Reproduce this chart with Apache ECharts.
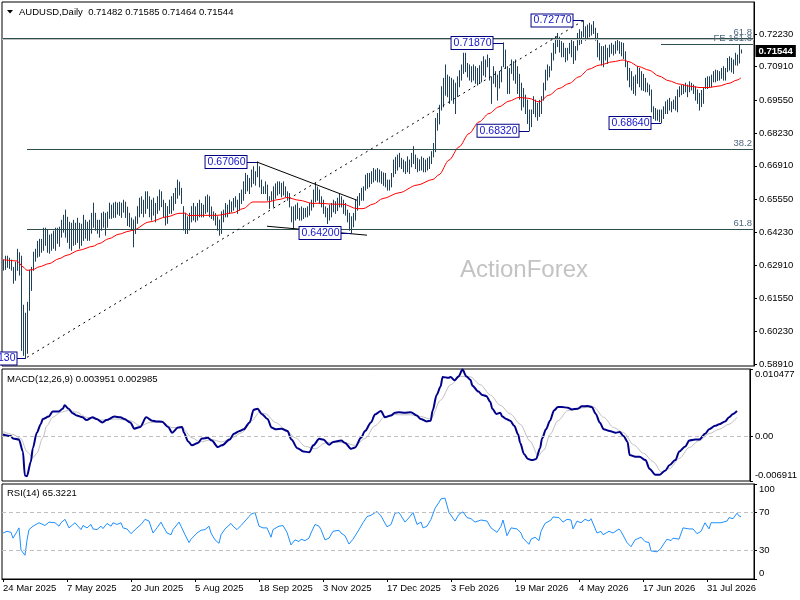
<!DOCTYPE html>
<html><head><meta charset="utf-8">
<script src="https://cdn.jsdelivr.net/npm/echarts@6/dist/echarts.min.js"></script>
<style>html,body{margin:0;padding:0;background:#fff}#c{width:800px;height:600px}</style>
</head><body><div id="c"></div>
<script>
const tickLabels = ['24 Mar 2025','7 May 2025','20 Jun 2025','5 Aug 2025','18 Sep 2025','3 Nov 2025','17 Dec 2025','3 Feb 2026','19 Mar 2026','4 May 2026','17 Jun 2026','31 Jul 2026'];
const priceTicks = [0.72230,0.70910,0.69550,0.68230,0.66910,0.65550,0.64230,0.62910,0.61550,0.60230,0.58910];
const macdTicks = [0.010477, 0, -0.006911];
const rsiTicks = [0, 30, 70, 100];
const headerOHLC = [0.71482, 0.71585, 0.71464, 0.71544];

const highs = [
0.6310,0.6326,0.6326,0.6318,0.6310,0.6281,0.6302,0.6354,0.6340,0.6326,
0.6128,0.6096,0.6140,0.6269,0.6281,0.6342,0.6354,0.6386,0.6394,0.6394,
0.6439,0.6439,0.6431,0.6411,0.6415,0.6427,0.6439,0.6439,0.6443,0.6471,
0.6491,0.6512,0.6483,0.6463,0.6459,0.6471,0.6459,0.6479,0.6459,0.6455,
0.6491,0.6471,0.6463,0.6471,0.6499,0.6540,0.6499,0.6471,0.6471,0.6499,
0.6504,0.6499,0.6504,0.6540,0.6532,0.6540,0.6544,0.6540,0.6544,0.6540,
0.6552,0.6544,0.6524,0.6499,0.6480,0.6472,0.6485,0.6526,0.6560,0.6566,
0.6552,0.6586,0.6586,0.6566,0.6552,0.6560,0.6539,0.6566,0.6593,0.6586,
0.6552,0.6539,0.6526,0.6552,0.6566,0.6579,0.6600,0.6633,0.6625,0.6600,
0.6526,0.6499,0.6485,0.6499,0.6526,0.6539,0.6525,0.6539,0.6552,
0.6539,0.6532,0.6566,0.6573,0.6566,0.6525,0.6505,0.6498,0.6485,0.6472,
0.6505,0.6512,0.6539,0.6532,0.6552,0.6545,0.6559,0.6566,0.6552,0.6579,
0.6593,0.6626,0.6660,0.6652,0.6640,0.6674,0.6687,0.6667,0.6706,0.6687,
0.6633,0.6606,0.6626,0.6613,0.6566,0.6586,0.6606,0.6618,0.6626,0.6626,
0.6620,0.6626,0.6606,0.6586,0.6579,0.6525,0.6525,0.6532,0.6540,0.6519,
0.6525,0.6519,0.6519,0.6525,0.6539,0.6552,0.6593,0.6620,0.6605,0.6593,
0.6566,0.6552,0.6525,0.6519,0.6532,0.6539,0.6552,0.6546,0.6560,0.6579,
0.6566,0.6552,0.6539,0.6512,0.6499,0.6485,0.6499,0.6552,0.6566,0.6579,
0.6600,0.6606,0.6653,0.6660,0.6660,0.6667,0.6680,0.6674,0.6680,0.6674,
0.6667,0.6662,0.6660,0.6633,0.6633,0.6660,0.6714,0.6725,0.6734,0.6741,
0.6721,0.6714,0.6707,0.6727,0.6714,0.6741,0.6768,0.6734,0.6721,0.6715,
0.6727,0.6721,0.6714,0.6721,0.6727,0.6748,0.6781,0.6882,0.6902,0.6935,
0.7010,0.7044,0.7098,0.7057,0.7050,0.7044,0.7037,0.7024,0.7050,0.7075,
0.7098,0.7145,0.7145,0.7104,0.7098,0.7091,0.7098,0.7091,0.7084,0.7095,
0.7111,0.7131,0.7118,0.7138,0.7124,0.7050,0.7091,0.7071,0.7057,0.7070,
0.7091,0.7187,0.7158,0.7091,0.7084,0.7118,0.7111,0.7118,0.7091,0.7060,
0.7024,0.7003,0.6976,0.6956,0.6916,0.6916,0.6970,0.6956,0.6943,0.6955,
0.6970,0.7024,0.7077,0.7098,0.7091,0.7145,0.7185,0.7212,0.7225,0.7210,
0.7192,0.7185,0.7165,0.7165,0.7185,0.7198,0.7192,0.7172,0.7225,0.7240,
0.7232,0.7277,0.7252,0.7259,0.7266,0.7259,0.7273,0.7246,0.7225,0.7185,
0.7172,0.7172,0.7178,0.7165,0.7178,0.7185,0.7178,0.7192,0.7198,0.7192,
0.7188,0.7185,0.7151,0.7111,0.7084,0.7071,0.7050,0.7057,0.7091,0.7084,
0.7071,0.7060,0.7044,0.7024,0.7017,0.6997,0.6929,0.6922,0.6916,0.6916,
0.6916,0.6929,0.6949,0.6956,0.6963,0.6949,0.6956,0.6970,0.6997,0.7010,
0.7015,0.7017,0.7024,0.7017,0.7030,0.7024,0.7017,0.7010,0.6997,0.6983,
0.6995,0.7003,0.7044,0.7050,0.7050,0.7057,0.7071,0.7077,0.7075,0.7071,
0.7084,0.7091,0.7084,0.7124,0.7131,0.7125,0.7118,0.7145,0.7138,0.7178,
0.71585];

const lows = [
0.6270,0.6273,0.6281,0.6277,0.6270,0.6217,0.6229,0.6269,0.6250,0.5946,
0.5926,0.5913,0.5934,0.6108,0.6188,0.6269,0.6306,0.6322,0.6326,0.6342,
0.6350,0.6370,0.6342,0.6338,0.6350,0.6358,0.6350,0.6378,0.6366,0.6403,
0.6423,0.6403,0.6382,0.6358,0.6350,0.6370,0.6374,0.6382,0.6358,0.6370,
0.6390,0.6399,0.6390,0.6390,0.6419,0.6443,0.6431,0.6419,0.6403,0.6431,
0.6443,0.6411,0.6443,0.6479,0.6479,0.6483,0.6483,0.6496,0.6491,0.6483,
0.6504,0.6483,0.6450,0.6445,0.6432,0.6364,0.6418,0.6459,0.6485,0.6499,
0.6485,0.6499,0.6519,0.6485,0.6472,0.6492,0.6465,0.6499,0.6512,0.6526,
0.6485,0.6452,0.6459,0.6499,0.6499,0.6512,0.6539,0.6560,0.6573,0.6539,
0.6432,0.6418,0.6418,0.6432,0.6465,0.6472,0.6465,0.6472,0.6485,
0.6485,0.6485,0.6499,0.6505,0.6485,0.6478,0.6472,0.6452,0.6431,0.6411,
0.6418,0.6465,0.6485,0.6485,0.6499,0.6505,0.6512,0.6525,0.6499,0.6512,
0.6539,0.6552,0.6579,0.6590,0.6579,0.6606,0.6620,0.6613,0.6647,0.6606,
0.6579,0.6579,0.6579,0.6552,0.6519,0.6552,0.6525,0.6560,0.6573,0.6579,
0.6566,0.6573,0.6566,0.6552,0.6525,0.6465,0.6438,0.6472,0.6478,0.6472,
0.6472,0.6478,0.6485,0.6485,0.6492,0.6512,0.6525,0.6546,0.6552,0.6539,
0.6525,0.6499,0.6485,0.6458,0.6472,0.6485,0.6505,0.6499,0.6510,0.6525,
0.6525,0.6499,0.6492,0.6465,0.6431,0.6420,0.6445,0.6472,0.6512,0.6532,
0.6552,0.6552,0.6593,0.6600,0.6606,0.6620,0.6626,0.6633,0.6626,0.6626,
0.6620,0.6612,0.6606,0.6593,0.6593,0.6606,0.6647,0.6660,0.6674,0.6687,
0.6680,0.6667,0.6660,0.6667,0.6660,0.6687,0.6700,0.6680,0.6667,0.6672,
0.6674,0.6667,0.6667,0.6674,0.6680,0.6700,0.6727,0.6748,0.6835,0.6860,
0.6916,0.6929,0.6976,0.6970,0.6943,0.6956,0.6943,0.6902,0.6970,0.7010,
0.7037,0.7064,0.7071,0.7050,0.7037,0.7030,0.7037,0.7024,0.7017,0.7025,
0.7030,0.7057,0.7050,0.7091,0.7037,0.6943,0.7024,0.7010,0.6956,0.7005,
0.7030,0.7091,0.7084,0.6983,0.6983,0.7064,0.7037,0.7024,0.6983,0.6960,
0.6916,0.6929,0.6902,0.6862,0.6832,0.6849,0.6902,0.6889,0.6875,0.6890,
0.6902,0.6956,0.6997,0.7037,0.7050,0.7077,0.7118,0.7145,0.7172,0.7150,
0.7131,0.7131,0.7111,0.7118,0.7145,0.7131,0.7104,0.7118,0.7158,0.7180,
0.7185,0.7212,0.7198,0.7205,0.7212,0.7219,0.7225,0.7198,0.7131,0.7118,
0.7098,0.7091,0.7118,0.7104,0.7131,0.7145,0.7138,0.7145,0.7158,0.7145,
0.7135,0.7124,0.7091,0.7037,0.7010,0.6997,0.6983,0.6976,0.7024,0.7010,
0.6997,0.6995,0.6990,0.6990,0.6976,0.6909,0.6882,0.6875,0.6875,0.6869,
0.6864,0.6882,0.6902,0.6902,0.6916,0.6909,0.6922,0.6916,0.6909,0.6970,
0.6978,0.6983,0.6990,0.6970,0.6990,0.6997,0.6983,0.6956,0.6943,0.6916,
0.6930,0.6943,0.7003,0.7003,0.7010,0.7010,0.7030,0.7030,0.7035,0.7037,
0.7044,0.7037,0.7037,0.7071,0.7077,0.7070,0.7064,0.7098,0.7097,0.7106,
0.71464];

// [bar index, value] read along the red moving average
const maPts = [[0,0.6312],[7,0.6307],[10,0.6283],[12,0.6269],[15,0.6272],[18,0.6283],[23,0.6296],[28,0.6316],[32,0.6330],[38,0.6350],[45,0.6366],[48,0.6377],[53,0.6397],[58,0.6415],[63,0.6427],[65,0.6431],[73,0.6464],[82,0.6485],[88,0.6499],[91,0.6500],[93,0.6490],[98,0.6491],[107,0.6491],[115,0.6501],[120,0.6518],[125,0.6545],[132,0.6545],[138,0.6555],[142,0.6563],[148,0.6552],[155,0.6539],[158,0.6540],[165,0.6536],[170,0.6536],[177,0.6518],[180,0.6518],[185,0.6536],[190,0.6559],[198,0.6582],[207,0.6613],[215,0.6636],[218,0.6655],[223,0.6714],[228,0.6767],[233,0.6821],[238,0.6868],[243,0.6902],[248,0.6929],[253,0.6952],[258,0.6967],[263,0.6963],[268,0.6949],[273,0.6976],[278,0.7003],[283,0.7023],[288,0.7050],[293,0.7081],[298,0.7097],[305,0.7111],[310,0.7118],[313,0.7111],[318,0.7091],[323,0.7077],[328,0.7053],[333,0.7034],[338,0.7021],[343,0.7013],[348,0.7007],[353,0.7007],[358,0.7013],[363,0.7024],[367,0.7037],[369,0.7046]];

const macdPts = [[0,0.00032],[4,0.00006],[5,-0.00032],[8,-0.00048],[10,-0.00233],[11,-0.00607],[12,-0.00616],[14,-0.00393],[15,-0.00181],[17,0.00059],[19,0.00191],[20,0.00271],[23,0.00309],[25,0.00389],[28,0.00389],[30,0.00430],[31,0.00484],[33,0.00430],[35,0.00362],[37,0.00325],[40,0.00298],[42,0.00255],[45,0.00298],[47,0.00271],[50,0.00218],[52,0.00255],[56,0.00309],[59,0.00298],[61,0.00271],[64,0.00218],[66,0.00122],[69,0.00149],[72,0.00298],[75,0.00245],[77,0.00234],[80,0.00229],[83,0.00149],[85,0.00059],[88,0.00138],[90,0.00149],[91,0.00059],[93,-0.00074],[95,-0.00138],[98,-0.00101],[100,-0.00032],[103,-0.00021],[105,-0.00064],[108,-0.00165],[110,-0.00138],[114,-0.00048],[116,0.00043],[119,0.00085],[121,0.00112],[124,0.00218],[126,0.00414],[128,0.00430],[130,0.00351],[133,0.00271],[135,0.00138],[137,0.00112],[140,0.00122],[143,0.00085],[145,-0.00048],[148,-0.00181],[151,-0.00234],[154,-0.00244],[156,-0.00138],[159,-0.00037],[161,-0.00048],[164,-0.00128],[166,-0.00085],[170,-0.00064],[172,-0.00101],[175,-0.00192],[177,-0.00171],[180,-0.00021],[182,0.00085],[185,0.00218],[187,0.00341],[190,0.00394],[192,0.00298],[195,0.00325],[197,0.00367],[199,0.00378],[202,0.00367],[205,0.00378],[208,0.00325],[210,0.00271],[213,0.00234],[215,0.00245],[216,0.00404],[218,0.00644],[220,0.00777],[221,0.00925],[224,0.00910],[225,0.00925],[227,0.00872],[229,0.00932],[231,0.01038],[233,0.00932],[235,0.00880],[236,0.00788],[239,0.00697],[241,0.00644],[243,0.00628],[245,0.00537],[246,0.00430],[248,0.00351],[250,0.00367],[251,0.00309],[253,0.00271],[255,0.00245],[257,0.00165],[259,0.00032],[260,-0.00101],[262,-0.00276],[264,-0.00351],[266,-0.00367],[268,-0.00351],[270,-0.00181],[271,-0.00032],[273,0.00112],[275,0.00245],[277,0.00404],[279,0.00457],[281,0.00457],[284,0.00447],[286,0.00420],[289,0.00430],[291,0.00468],[294,0.00473],[296,0.00457],[298,0.00351],[300,0.00218],[302,0.00112],[305,0.00085],[308,0.00059],[310,0.00069],[312,0.00006],[314,-0.00085],[315,-0.00287],[318,-0.00314],[320,-0.00314],[323,-0.00367],[325,-0.00500],[328,-0.00596],[330,-0.00596],[333,-0.00527],[335,-0.00447],[338,-0.00367],[340,-0.00234],[343,-0.00154],[345,-0.00064],[348,-0.00048],[350,-0.00048],[353,0.00043],[355,0.00112],[358,0.00165],[360,0.00191],[363,0.00234],[365,0.00298],[367,0.00351],[369,0.003951]];

const signalPts = [[0,0.00075],[5,0.00032],[9,-0.00032],[12,-0.00234],[15,-0.00330],[17,-0.00261],[20,-0.00021],[22,0.00165],[25,0.00298],[29,0.00378],[33,0.00404],[37,0.00378],[42,0.00298],[49,0.00255],[57,0.00271],[64,0.00245],[69,0.00165],[74,0.00218],[80,0.00218],[85,0.00138],[90,0.00138],[95,-0.00021],[99,-0.00085],[105,-0.00048],[110,-0.00085],[115,-0.00021],[120,0.00059],[125,0.00245],[129,0.00378],[132,0.00351],[137,0.00218],[142,0.00112],[147,-0.00021],[152,-0.00154],[157,-0.00192],[162,-0.00101],[167,-0.00085],[172,-0.00101],[177,-0.00138],[182,-0.00032],[187,0.00165],[192,0.00309],[197,0.00341],[199,0.00336],[205,0.00336],[210,0.00309],[215,0.00271],[220,0.00564],[225,0.00803],[230,0.00932],[235,0.00925],[240,0.00803],[245,0.00644],[250,0.00484],[255,0.00351],[260,0.00191],[265,-0.00074],[269,-0.00298],[272,-0.00207],[275,0.00032],[279,0.00245],[284,0.00404],[292,0.00447],[297,0.00457],[302,0.00298],[307,0.00138],[312,0.00059],[317,-0.00128],[322,-0.00261],[327,-0.00394],[331,-0.00553],[335,-0.00500],[340,-0.00340],[345,-0.00171],[350,-0.00064],[355,0.00043],[360,0.00112],[365,0.00191],[369,0.002985]];

const rsiPts = [[0,48.4],[2,50.2],[4,49.1],[5,43],[7,50],[8,53.8],[9,30.4],[10,28.6],[11,25],[12,41],[13,52],[15,55.6],[18,59.2],[19,61],[21,56.3],[23,59.9],[24,58.1],[26,59.2],[28,55.6],[29,59.2],[31,62.8],[33,53.8],[34,52],[36,59.2],[39,52],[40,56.3],[42,53.8],[44,57.4],[45,52.7],[47,52],[49,55.6],[50,53.1],[52,58.5],[54,55.6],[55,59.2],[57,57.4],[59,59.2],[60,53.8],[62,52.7],[64,47.7],[67,53.8],[69,57.4],[71,62.8],[73,61],[75,48.4],[77,53.8],[79,59.9],[80,55.6],[82,48.4],[84,46.6],[85,52],[88,59.9],[89,55.6],[91,46.6],[93,38.3],[94,41.9],[97,48.4],[99,51.3],[101,52],[103,55.6],[104,48.4],[106,41.2],[108,37.6],[109,46.6],[111,52.7],[114,58.5],[115,55.6],[117,52],[119,56.3],[121,61],[123,65.7],[124,68.2],[126,70],[128,55.6],[130,53.8],[132,53.8],[134,44],[135,52],[138,55.6],[140,56.3],[142,49.1],[144,35.8],[146,41.2],[148,39.4],[149,41.9],[151,40.4],[153,43],[154,48.4],[156,57.4],[158,55.6],[159,52],[161,41.2],[163,43],[165,50.2],[168,51.3],[169,48.4],[171,45.5],[173,36.8],[175,41.9],[178,52],[180,59.2],[182,65.7],[184,67.1],[187,71.1],[189,66.4],[192,54.9],[194,57.4],[196,69.3],[198,70],[199,68.2],[201,59.9],[203,64.6],[205,70],[207,57.4],[209,59.9],[210,53.8],[212,55.6],[214,62.8],[216,74.3],[218,80.8],[219,84.4],[221,85.1],[223,70],[224,71.8],[226,61],[228,68.2],[230,70.7],[232,64.6],[234,63.5],[236,59.9],[239,62.1],[240,63.5],[242,61],[244,53.8],[245,55.6],[247,49.1],[249,55.6],[250,62.1],[252,45.5],[254,53.8],[255,52],[257,52.7],[259,48.4],[260,43],[263,36.5],[264,41.9],[266,44],[268,40.4],[269,50.2],[271,58.5],[274,62.1],[275,65.3],[278,64.6],[280,59.9],[282,62.8],[284,62.1],[285,52.7],[287,61],[289,59.2],[291,62.8],[293,61],[294,63.5],[297,48.4],[299,50.2],[300,46.6],[303,50.2],[305,48.4],[308,52.7],[309,50.2],[312,38.3],[314,34],[316,41.2],[319,44],[321,39.4],[323,38.3],[324,29.6],[327,28.6],[329,32.2],[330,35.8],[332,41.9],[334,40.4],[335,43],[338,41.9],[340,53.8],[343,52.7],[345,52.7],[347,47.7],[349,50.2],[351,59.2],[353,52.7],[354,59.2],[357,59.2],[359,59.2],[362,61],[363,64.6],[365,63.5],[367,69.3],[368,66.4],[369,65.3221]];

// drawn objects: fib levels, swing labels, trend lines
const fibLevels = [
  {v:0.72065, from:0, text:'61.8'},
  {v:0.67588, from:12, text:'38.2'},
  {v:0.64359, from:12, text:'61.8'},
  {v:0.71826, from:329, text:'FE 161.8'}
];
const swingLabels = [
  {bar:11, at:7, price:0.5913},
  {bar:127, at:122, price:0.6706},
  {bar:174, at:169, price:0.6420},
  {bar:250, at:245, price:0.7187},
  {bar:263, at:258, price:0.6832},
  {bar:290, at:285, price:0.7277},
  {bar:329, at:324, price:0.6864}
];
const trendLines = [
  {a:[12,0.5918], b:[290,0.7276], dotted:true},
  {a:[127,0.6706], b:[177,0.6552]},
  {a:[132,0.6447], b:[182,0.6411]}
];

const NCAT = 376;
const cats = Array.from({length: NCAT}, (_, i) => String(i));
const FONT = '"Liberation Sans", Arial, sans-serif';
const FS = 9.5;
const showTick = (i) => i % 32 === 0 && i / 32 < tickLabels.length;
const last = (a) => a[a.length - 1][1];

const chart = echarts.init(document.getElementById('c'), null, {renderer: 'canvas'});

const gridBase = {show: true, borderColor: '#000', borderWidth: 1, backgroundColor: 'transparent', containLabel: false};
const grids = [
  Object.assign({left: 2, top: 2, width: 752, height: 364}, gridBase),
  Object.assign({left: 2, top: 369, width: 752, height: 112}, gridBase),
  Object.assign({left: 2, top: 484, width: 752, height: 95}, gridBase)
];

const xAxes = [0, 1, 2].map(k => ({
  type: 'category', gridIndex: k, data: cats, boundaryGap: true, show: k === 2,
  axisLine: {show: true, lineStyle: {color: '#000'}},
  axisTick: {show: true, interval: (i) => showTick(i), alignWithLabel: true, length: 3, lineStyle: {color: '#000'}},
  axisLabel: {show: true, interval: (i) => showTick(i), formatter: (v, i) => tickLabels[i / 32] || '',
    align: 'left', margin: 4, color: '#000', fontSize: FS, fontFamily: FONT},
  splitLine: {show: false}
}));

// shift the top-most label down and the bottom-most label up, as the reference does
const edgeLabel = (txt, v, lo, hi) => v === hi ? '{t|' + txt + '}' : (v === lo ? '{b|' + txt + '}' : txt);
const edgeRich = {t: {padding: [11, 0, 0, 0], fontSize: FS, fontFamily: FONT, color: '#000'},
                  b: {padding: [0, 0, 11, 0], fontSize: FS, fontFamily: FONT, color: '#000'}};

const yCommon = {
  type: 'value', position: 'right',
  axisLine: {show: true, lineStyle: {color: '#000'}},
  splitLine: {show: false}
};
const yAxes = [
  Object.assign({}, yCommon, {gridIndex: 0, min: 0.58829, max: 0.73521,
    axisTick: {show: true, length: 3, customValues: priceTicks, lineStyle: {color: '#000'}},
    axisLabel: {customValues: priceTicks, formatter: v => v.toFixed(5), color: '#000', fontSize: FS, fontFamily: FONT, margin: 5}}),
  Object.assign({}, yCommon, {gridIndex: 1, min: -0.006911, max: 0.010477,
    axisTick: {show: true, length: 3, customValues: macdTicks, lineStyle: {color: '#000'}},
    axisLabel: {customValues: macdTicks, color: '#000', fontSize: FS, fontFamily: FONT, margin: 5, rich: edgeRich,
      formatter: v => edgeLabel(v === 0 ? '0.00' : v.toFixed(6), v, macdTicks[2], macdTicks[0])}}),
  Object.assign({}, yCommon, {gridIndex: 2, min: 0, max: 100,
    axisTick: {show: true, length: 3, customValues: rsiTicks, lineStyle: {color: '#000'}},
    axisLabel: {customValues: rsiTicks, color: '#000', fontSize: FS, fontFamily: FONT, margin: 5, rich: edgeRich,
      formatter: v => edgeLabel(String(v), v, 0, 100)}})
];

const barData = highs.map((h, i) => [i, h, lows[i]]);

const markLines = [];
// bid line
markLines.push({yAxis: headerOHLC[3], lineStyle: {color: '#c0c0c0', type: 'solid', width: 1}, label: {show: false}});
fibLevels.forEach(f => {
  markLines.push([{coord: [f.from, f.v], lineStyle: {color: '#2f4f4f', type: 'solid', width: 1},
    label: {show: true, position: 'insideEndTop', distance: 1, formatter: f.text, color: '#50687e', fontSize: FS, fontFamily: FONT}},
    {coord: [NCAT - 1, f.v]}]);
});
trendLines.forEach(t => {
  markLines.push([{coord: t.a, lineStyle: {color: '#000', type: t.dotted ? [2, 4] : 'solid', width: 1}, label: {show: false}},
    {coord: t.b}]);
});
swingLabels.forEach(s => {
  markLines.push([{coord: [s.at, s.price], lineStyle: {color: '#000080', type: 'solid', width: 1}, label: {show: false}},
    {coord: [s.bar, s.price]}]);
});

const markPoints = swingLabels.map(s => ({
  coord: [s.at, s.price], symbol: 'rect', symbolSize: 1, itemStyle: {color: 'rgba(0,0,0,0)'},
  label: {show: true, position: 'left', distance: 0, formatter: s.price.toFixed(5),
    backgroundColor: '#fff', borderColor: '#000080', borderWidth: 1, padding: [1, 1, 0, 2],
    color: '#1414c8', fontSize: 10.5, fontFamily: FONT, lineHeight: 11}
}));
// bid price box on the right scale
markPoints.push({
  coord: [NCAT - 1, headerOHLC[3]], symbol: 'rect', symbolSize: 1, itemStyle: {color: 'rgba(0,0,0,0)'},
  label: {show: true, position: 'right', distance: 2, formatter: headerOHLC[3].toFixed(5),
    backgroundColor: '#000', color: '#fff', padding: [1, 3, 0, 3], fontSize: FS, fontFamily: FONT, fontWeight: 'bold', lineHeight: 11}
});

const titleStyle = {fontSize: FS, fontWeight: 'normal', color: '#000', fontFamily: FONT};
const option = {
  animation: false,
  backgroundColor: '#fff',
  textStyle: {fontFamily: FONT},
  grid: grids,
  xAxis: xAxes,
  yAxis: yAxes,
  title: [
    {text: 'AUDUSD,Daily  ' + headerOHLC.map(v => v.toFixed(5)).join(' '), left: 19, top: 7, padding: 0, textStyle: titleStyle},
    {text: 'MACD(12,26,9) ' + last(macdPts).toFixed(6) + ' ' + last(signalPts).toFixed(6), left: 7, top: 374, padding: 0, textStyle: titleStyle},
    {text: 'RSI(14) ' + last(rsiPts).toFixed(4), left: 7, top: 488, padding: 0, textStyle: titleStyle}
  ],
  graphic: [
    {type: 'polygon', shape: {points: [[7, 10], [13, 10], [10, 13.5]]}, style: {fill: '#000'}},
    {type: 'text', left: 460, top: 258, style: {text: 'ActionForex', fontSize: 24, fontFamily: FONT, fill: '#c3c3c3'}, z: 0}
  ],
  series: [
    {
      type: 'custom', name: 'AUDUSD', xAxisIndex: 0, yAxisIndex: 0, data: barData,
      encode: {x: 0, y: [1, 2]}, silent: true,
      renderItem: (params, api) => {
        const i = api.value(0);
        const top = api.coord([i, api.value(1)]);
        const bot = api.coord([i, api.value(2)]);
        const x = Math.round(top[0]) + 0.5;
        return {type: 'line', shape: {x1: x, y1: top[1] - 0.5, x2: x, y2: bot[1] + 0.5},
          style: {stroke: '#1f405a', lineWidth: 1}};
      },
      markLine: {silent: true, symbol: ['none', 'none'], animation: false, data: markLines},
      markPoint: {silent: true, animation: false, data: markPoints}
    },
    {
      type: 'line', name: 'MA', xAxisIndex: 0, yAxisIndex: 0, data: maPts, showSymbol: false, silent: true,
      smooth: 0.3, smoothMonotone: 'x', lineStyle: {color: '#ff0000', width: 1}, z: 3
    },
    {
      type: 'line', name: 'Signal', xAxisIndex: 1, yAxisIndex: 1, data: signalPts, showSymbol: false, silent: true,
      smooth: 0.3, smoothMonotone: 'x', lineStyle: {color: '#c0c0c0', width: 1},
      markLine: {silent: true, symbol: ['none', 'none'], label: {show: false},
        lineStyle: {color: '#c0c0c0', type: [4, 3], width: 1}, data: [{yAxis: 0}]}
    },
    {
      type: 'line', name: 'MACD', xAxisIndex: 1, yAxisIndex: 1, data: macdPts, showSymbol: false, silent: true,
      smooth: 0.3, smoothMonotone: 'x', lineStyle: {color: '#00008b', width: 2}, z: 3
    },
    {
      type: 'line', name: 'RSI', xAxisIndex: 2, yAxisIndex: 2, data: rsiPts, showSymbol: false, silent: true,
      lineStyle: {color: '#1e90ff', width: 1},
      markLine: {silent: true, symbol: ['none', 'none'], label: {show: false},
        lineStyle: {color: '#c0c0c0', type: [4, 3], width: 1}, data: [{yAxis: 70}, {yAxis: 30}]}
    }
  ]
};
chart.setOption(option);
</script>
</body></html>
